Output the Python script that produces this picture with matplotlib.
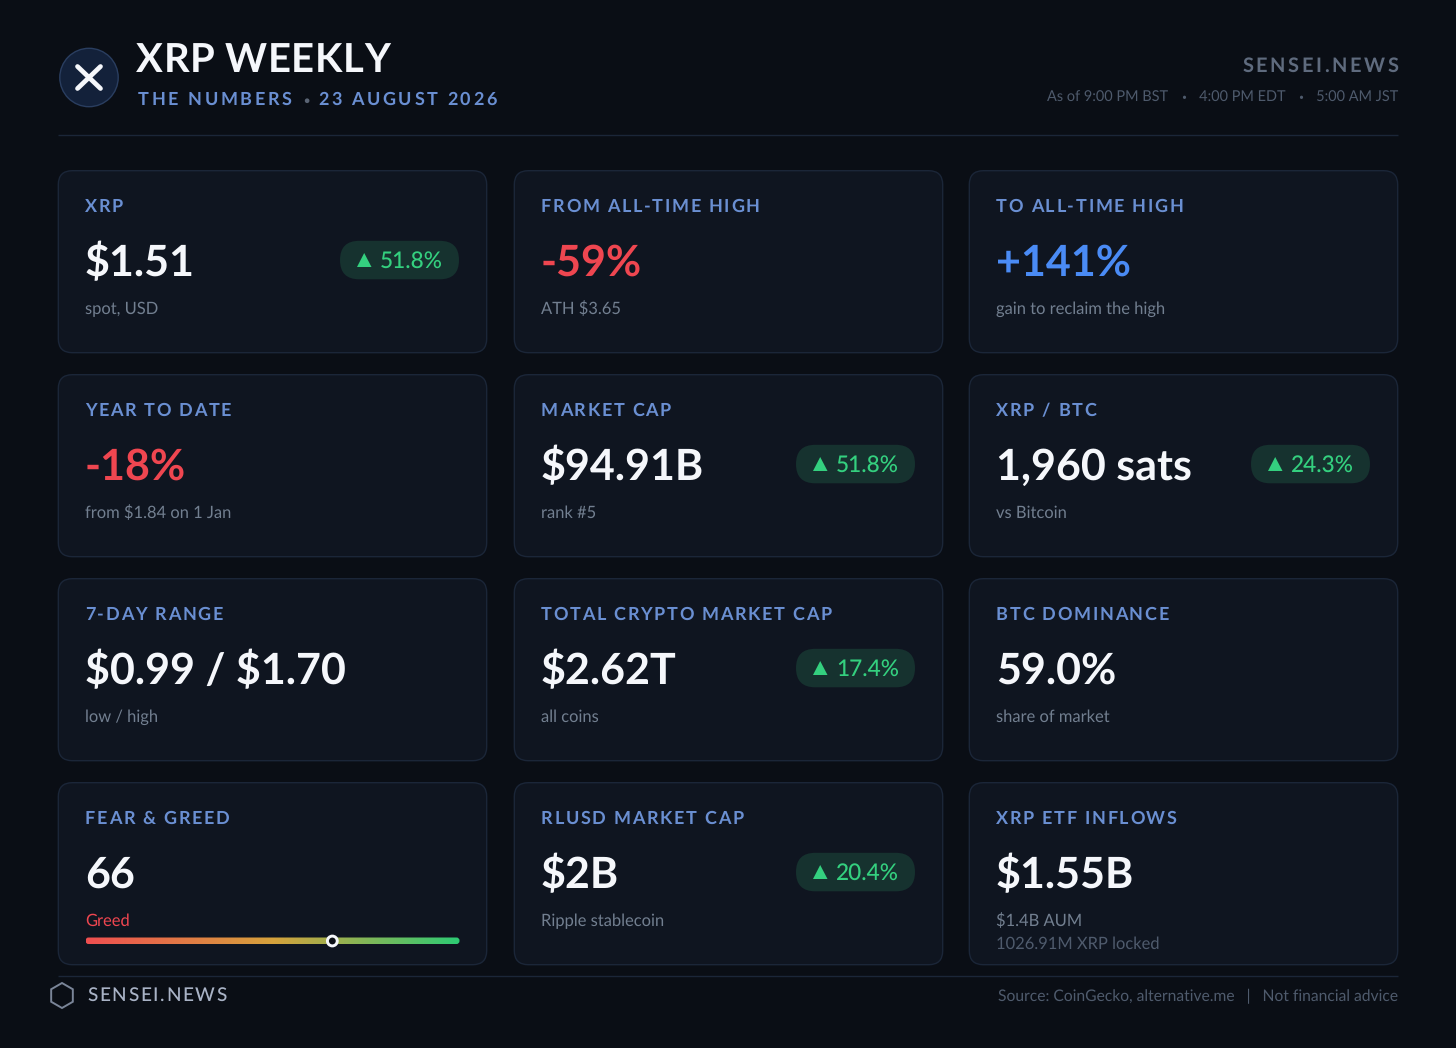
import matplotlib
matplotlib.use("Agg")
import math
import re
import matplotlib.pyplot as plt
import numpy as np
from matplotlib.colors import LinearSegmentedColormap
from matplotlib.patches import Circle, FancyBboxPatch, Polygon, RegularPolygon
from matplotlib.text import Text

plt.rcParams["font.family"] = ["Lato", "DejaVu Sans"]
plt.rcParams["text.hinting"] = "no_hinting"
plt.rcParams["text.hinting_factor"] = 8

TITLE = "XRP WEEKLY"
SUBTITLE = "THE NUMBERS • 23 AUGUST 2026"
BRAND = "SENSEI.NEWS"
TIMES = "As of 9:00 PM BST   •   4:00 PM EDT   •   5:00 AM JST"
SOURCE = "Source: CoinGecko, alternative.me   |   Not financial advice"

labels = ["XRP", "FROM ALL-TIME HIGH", "TO ALL-TIME HIGH",
          "YEAR TO DATE", "MARKET CAP", "XRP / BTC",
          "7-DAY RANGE", "TOTAL CRYPTO MARKET CAP", "BTC DOMINANCE",
          "FEAR & GREED", "RLUSD MARKET CAP", "XRP ETF INFLOWS"]
values = ["$1.51", "-59%", "+141%",
          "-18%", "$94.91B", "1,960 sats",
          "$0.99 / $1.70", "$2.62T", "59.0%",
          "66", "$2B", "$1.55B"]
tones = ["plain", "down", "up",
         "down", "plain", "plain",
         "plain", "plain", "plain",
         "plain", "plain", "plain"]
subs = ["spot, USD", "ATH $3.65", "gain to reclaim the high",
        "from $1.84 on 1 Jan", "rank #5", "vs Bitcoin",
        "low / high", "all coins", "share of market",
        "Greed", "Ripple stablecoin", "$1.4B AUM"]
changes = ["51.8%", None, None,
           None, "51.8%", "24.3%",
           None, "17.4%", None,
           None, "20.4%", None]
extra_sub = "1026.91M XRP locked"
fear_greed = 66

BG = "#0a0e15"
CARD = "#0f1520"
EDGE = "#1b2638"
LABEL = "#6a8fd2"
WHITE = "#f5f7fb"
RED = "#ef4650"
BLUE = "#4a8bf5"
GREEN = "#34d07f"
PILL = "#16322f"
SUB = "#727f90"
TONE = {"plain": WHITE, "down": RED, "up": BLUE}


class SpacedText(Text):
    """A single text artist drawn with CSS-like letter spacing and small bullets."""

    def __init__(self, *args, spacing=0.0, char_colors=None, bullet_scale=1.0, bullet_trim=0.0, **kw):
        super().__init__(*args, **kw)
        self.spacing = spacing
        self.char_colors = char_colors or {}
        self.bullet_scale = bullet_scale
        self.bullet_trim = bullet_trim

    def draw(self, renderer):
        if not self.get_visible():
            return
        s = self.get_text()
        prop = self.get_fontproperties()
        small = prop.copy()
        small.set_size(prop.get_size_in_points() * self.bullet_scale)
        x, y = self.get_transform().transform(self.get_unitless_position())
        y = renderer.height - y

        def w(sub):
            return renderer.get_text_width_height_descent(sub, prop, False)[0] if sub else 0.0

        def put_run(px0, py, run, p):
            # Agg places text bitmaps on whole pixels from their ink box; undo that so
            # every run shares one baseline.
            _, h, d = renderer.get_text_width_height_descent(run, p, False)
            target = round(py) - d + math.trunc(h) - math.floor(h - d)
            renderer.draw_text(gc, px0, target, run, p, 0)

        total = w(s) + self.spacing * (len(s) - 1) - self.bullet_trim * s.count("•")
        if self.get_horizontalalignment() == "right":
            x -= total
        gc = renderer.new_gc()
        if self.spacing:
            runs = [(i, ch) for i, ch in enumerate(s) if ch != " "]
        else:
            runs = [(m.start(), m.group()) for m in re.finditer(r"•|[^•]+", s)]
        for i, run in runs:
            gc.set_foreground(self.char_colors.get(run, self.get_color()))
            px0 = x + w(s[:i]) + self.spacing * i - self.bullet_trim * s[:i].count("•")
            if run == "•":
                scale = self.bullet_scale
                off = w(run) * (1 - scale) / 2
                dy = -prop.get_size_in_points() * 0.27 * (1 - scale)
                put_run(px0 + off, y + dy, run, small)
            else:
                put_run(px0, y, run, prop)
        gc.restore()


fig = plt.figure(figsize=(14.56, 10.48), dpi=100, facecolor=BG)
ax = fig.add_axes([0, 0, 1, 1])
ax.set_xlim(0, 1456)
ax.set_ylim(1048, 0)
ax.axis("off")


def px(size):
    return size * 0.72


def put(x, y, s, size, color, weight="normal", spacing=0.0, ha="left", char_colors=None,
        bullet_scale=1.0, bullet_trim=0.0):
    t = SpacedText(x, y, s, spacing=spacing, char_colors=char_colors, bullet_scale=bullet_scale,
                   bullet_trim=bullet_trim, fontsize=px(size), color=color, fontweight=weight,
                   ha=ha, va="baseline", transform=ax.transData)
    t.set_fontfamily(["Lato", "DejaVu Sans"])
    ax.add_artist(t)
    return t


# Header
ax.add_patch(Circle((89, 77.5), 29.2, fc="#13213a", ec="#2a3e60", lw=1.0))
for dy in (1, -1):
    ax.plot([77.5, 100.5], [77.5 - 11 * dy, 77.5 + 11 * dy], color=WHITE, lw=3.4,
            solid_capstyle="round")
put(136, 72, TITLE, 40, WHITE, weight="bold", spacing=0.5)
put(138, 105, SUBTITLE, 18, LABEL, weight="bold", spacing=2.6,
    char_colors={"•": "#5a6474"}, bullet_scale=0.6, bullet_trim=2.5)
put(1398, 72, BRAND, 20, "#5f6b7e", weight="bold", spacing=2.6, ha="right")
put(1398, 101, TIMES, 14.5, "#4e5a6c", ha="right", bullet_scale=0.6)
ax.plot([58, 1398], [135, 135], color=EDGE, lw=1.0, solid_capstyle="butt")

# Cards
card_x = [58, 514, 969]
card_y = [171, 375, 579, 783]
card_w = 429
card_h = 182
for i, label in enumerate(labels):
    x0 = card_x[i % 3]
    y0 = card_y[i // 3]
    ax.add_patch(FancyBboxPatch((x0 + 14.3, y0 + 13.7), card_w - 28.6, card_h - 28,
                                boxstyle="round,pad=14,rounding_size=14",
                                fc=CARD, ec=EDGE, lw=1.0))
    tx = x0 + 27
    put(tx, y0 + 41, label, 18, LABEL, weight="bold", spacing=1.7)
    put(tx, y0 + 105, values[i], 43, TONE[tones[i]], weight="bold")
    put(tx, y0 + 143, subs[i], 16.5, RED if subs[i] == "Greed" else SUB)
    if changes[i] is not None:
        pl, pr = x0 + 282, x0 + 401
        pt, pb = y0 + 69.8, y0 + 108.3
        r = (pb - pt) / 2
        ax.add_patch(FancyBboxPatch((pl + r, pt + r), pr - pl - 2 * r, 0.01,
                                    boxstyle=f"round,pad={r},rounding_size={r}",
                                    fc=PILL, ec="none"))
        ax.add_patch(Polygon([(pl + 17, y0 + 96), (pl + 31.5, y0 + 96), (pl + 24.2, y0 + 82)],
                             closed=True, fc=GREEN, ec="none"))
        put(pl + 40, y0 + 97, changes[i], 22.6, GREEN, weight=500)
    if i == 11:
        put(tx, y0 + 166, extra_sub, 16.5, "#4f5b6d")

# Fear & greed bar
bar_l, bar_r, bar_t, bar_b = 85.5, 459.5, 937.5, 944
cmap = LinearSegmentedColormap.from_list("fg", ["#ef4f50", "#d6a23c", "#2ecb74"])
im = ax.imshow(np.linspace(0, 1, 400)[None, :], cmap=cmap, aspect="auto",
               extent=(bar_l, bar_r, bar_b, bar_t), zorder=3)
clip = FancyBboxPatch((bar_l + 3, bar_t + 3), bar_r - bar_l - 6, bar_b - bar_t - 6,
                      boxstyle="round,pad=3,rounding_size=3", transform=ax.transData,
                      fc="none", ec="none")
ax.add_patch(clip)
im.set_clip_path(clip)
ax.set_xlim(0, 1456)
ax.set_ylim(1048, 0)
mx = bar_l + (bar_r - bar_l) * fear_greed / 100
ax.add_patch(Circle((mx, 941), 4.9, fc="#0b0f16", ec=WHITE, lw=2.1, zorder=4))

# Footer
ax.plot([58, 1398], [976, 976], color=EDGE, lw=1.0, solid_capstyle="butt")
ax.add_patch(RegularPolygon((62, 995.5), 6, radius=12.5, fc="none", ec="#7a8598", lw=1.4))
put(87, 1001, BRAND, 19, "#a9b3c6", weight=500, spacing=1.7)
put(1398, 1001, SOURCE, 15.65, "#4f5b6d", ha="right")

fig.savefig("out.png", dpi=100, facecolor=BG)
